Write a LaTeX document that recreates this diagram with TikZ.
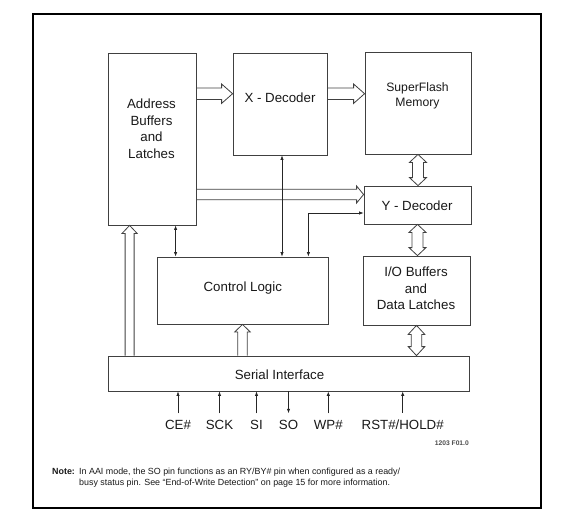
\documentclass[tikz,border=0pt]{standalone}
\usepackage{fontspec}
\setmainfont{Liberation Sans}
\usepackage{tikz}
\usetikzlibrary{calc, positioning, arrows.meta}

\begin{document}
\begin{tikzpicture}
  [x=1pt, y=-1pt, text=black!90, >={Latex[length=4.5pt,width=3.4pt]},
   block/.style={draw=black!75, line width=.8pt, rectangle, inner sep=0pt},
   lbl/.style={font=\fontsize{13.3}{16.5}\selectfont, align=center, inner sep=0pt},
   pinlbl/.style={font=\fontsize{13.3}{16.5}\selectfont, inner sep=6.5pt, anchor=base},
   sig/.style={line width=.7pt, draw=black!85},
   bus/.style n args={3}{line width=.8pt, draw=black!75, to path={let \p1=(\tikztostart), \p2=(\tikztotarget),
     \n1={atan2(\y2-\y1,\x2-\x1)}, \n2={veclen(\x2-\x1,\y2-\y1)} in
     ($(\p1)+(\n1+90:#1)$) -- ($(\p1)+(\n1:{\n2-#3})+(\n1+90:#1)$)
     -- ($(\p1)+(\n1:{\n2-#3})+(\n1+90:#2)$) -- (\p2)
     -- ($(\p1)+(\n1:{\n2-#3})+(\n1-90:#2)$)
     -- ($(\p1)+(\n1:{\n2-#3})+(\n1-90:#1)$) -- ($(\p1)+(\n1-90:#1)$)}},
   bibus/.style n args={3}{line width=.8pt, draw=black!75, to path={let \p1=(\tikztostart), \p2=(\tikztotarget),
     \n1={atan2(\y2-\y1,\x2-\x1)}, \n2={veclen(\x2-\x1,\y2-\y1)} in
     (\p1) -- ($(\p1)+(\n1:#3)+(\n1+90:#2)$) -- ($(\p1)+(\n1:#3)+(\n1+90:#1)$)
     -- ($(\p1)+(\n1:{\n2-#3})+(\n1+90:#1)$) -- ($(\p1)+(\n1:{\n2-#3})+(\n1+90:#2)$)
     -- (\p2) -- ($(\p1)+(\n1:{\n2-#3})+(\n1-90:#2)$) -- ($(\p1)+(\n1:{\n2-#3})+(\n1-90:#1)$)
     -- ($(\p1)+(\n1:#3)+(\n1-90:#1)$) -- ($(\p1)+(\n1:#3)+(\n1-90:#2)$) -- cycle}}]
  \useasboundingbox (0,0) rectangle (562,512);
  \draw[line width=1.1pt] (33,14) rectangle (541,508);

  % blocks %
  \node[block, minimum width=88pt, minimum height=172pt] (addr) at (152,139) {};
  \node[block, minimum width=94pt, minimum height=102pt] (xdec) at (280,104) {};
  \node[block, minimum width=106pt, minimum height=102pt] (mem) at (418,103) {};
  \node[block, minimum width=107pt, minimum height=38pt] (ydec) at (417.5,205) {};
  \node[block, minimum width=107pt, minimum height=69pt] (io) at (416.5,290.5) {};
  \node[block, minimum width=171pt, minimum height=67pt] (ctrl) at (242.5,290.5) {};
  \node[block, minimum width=361pt, minimum height=35pt] (serial) at (288.5,373.5) {};

  % block texts %
  \node[lbl] (addrtxt) at (151.5,128.8) {Address\\Buffers\\and\\Latches};
  \node[lbl, anchor=base] (xdectxt) at (280,102.3) {X - Decoder};
  \node[lbl, font=\fontsize{12.2}{15}\selectfont] (memtxt) at (417.5,96) {SuperFlash\\Memory};
  \node[lbl, anchor=base] (ydectxt) at (417,210) {Y - Decoder};
  \node[lbl] (iotxt) at (416,288.5) {I/O Buffers\\and\\Data Latches};
  \node[lbl, anchor=base] (ctrltxt) at (242.8,291) {Control Logic};
  \node[lbl, anchor=base] (serialtxt) at (279.5,379) {Serial Interface};

  % pins %
  \node[pinlbl] (ce) at (178,429.3) {CE\#};
  \node[pinlbl] (sck) at (219.5,429.3) {SCK};
  \node[pinlbl] (si) at (256.5,429.3) {SI};
  \node[pinlbl] (so) at (288.5,429.3) {SO};
  \node[pinlbl] (wp) at (328.3,429.3) {WP\#};
  \node[pinlbl] (rst) at (402.7,429.3) {RST\#/HOLD\#};

  \node[font=\bfseries\fontsize{6.7}{8}\selectfont, text=black!70, anchor=east, inner sep=0pt] (figid) at (469,442.7) {1203 F01.0};
  \node[font=\bfseries\fontsize{8.9}{11}\selectfont, anchor=base west, inner sep=0pt] (notelbl) at (52,474) {Note:};
  \node[font=\fontsize{8.9}{11}\selectfont, anchor=north west, align=left, inner sep=0pt] (note) at (79,467.6)
    {In AAI mode, the SO pin functions as an RY/BY\# pin when configured as a ready/\\busy status pin. See ``End-of-Write Detection'' on page 15 for more information.};

  % buses %
  \coordinate (ax) at ([yshift=10.3pt]xdec.west);
  \coordinate (ay) at ([yshift=10.5pt]ydec.west);
  \coordinate (sa) at ([xshift=22pt]addr.south west);
  \draw[bus={5.8pt}{9.7pt}{11pt}] (ax -| addr.east) to (ax);
  \draw[bus={5.8pt}{9.7pt}{11pt}] (ax -| xdec.east) to (ax -| mem.west);
  \draw[bus={5.3pt}{8.5pt}{7pt}] (ay -| addr.east) to (ay);
  \draw[bibus={5.5pt}{8.5pt}{8pt}] (mem.south) to (mem.south |- ydec.north);
  \draw[bibus={5.5pt}{8.5pt}{8pt}] (ydec.south) to (ydec.south |- io.north);
  \draw[bibus={5.3pt}{8.3pt}{9pt}] (io.south) to (io.south |- serial.north);
  \draw[bus={4.5pt}{7.5pt}{8pt}] (sa |- serial.north) to (sa);
  \draw[bus={4.7pt}{7.7pt}{7.5pt}] (ctrl.south |- serial.north) to (ctrl.south);

  % signals %
  \coordinate (ac) at ([xshift=19pt]ctrl.north west);
  \coordinate (xc) at ([xshift=2pt]xdec.south);
  \coordinate (cy) at ([xshift=-20pt]ctrl.north east);
  \coordinate (yc) at ([yshift=-8pt]ydec.west);
  \draw[sig, <->] (ac) -- (ac |- addr.south);
  \draw[sig, <->] (xc) -- (xc |- ctrl.north);
  \draw[sig, <->] (cy) |- (yc);
  \draw[sig, ->] (ce.north) -- (ce.north |- serial.south);
  \draw[sig, ->] (sck.north) -- (sck.north |- serial.south);
  \draw[sig, ->] (si.north) -- (si.north |- serial.south);
  \draw[sig, ->] (so.north |- serial.south) -- (so.north);
  \draw[sig, ->] (wp.north) -- (wp.north |- serial.south);
  \draw[sig, ->] (rst.north) -- (rst.north |- serial.south);
\end{tikzpicture}
\end{document}
